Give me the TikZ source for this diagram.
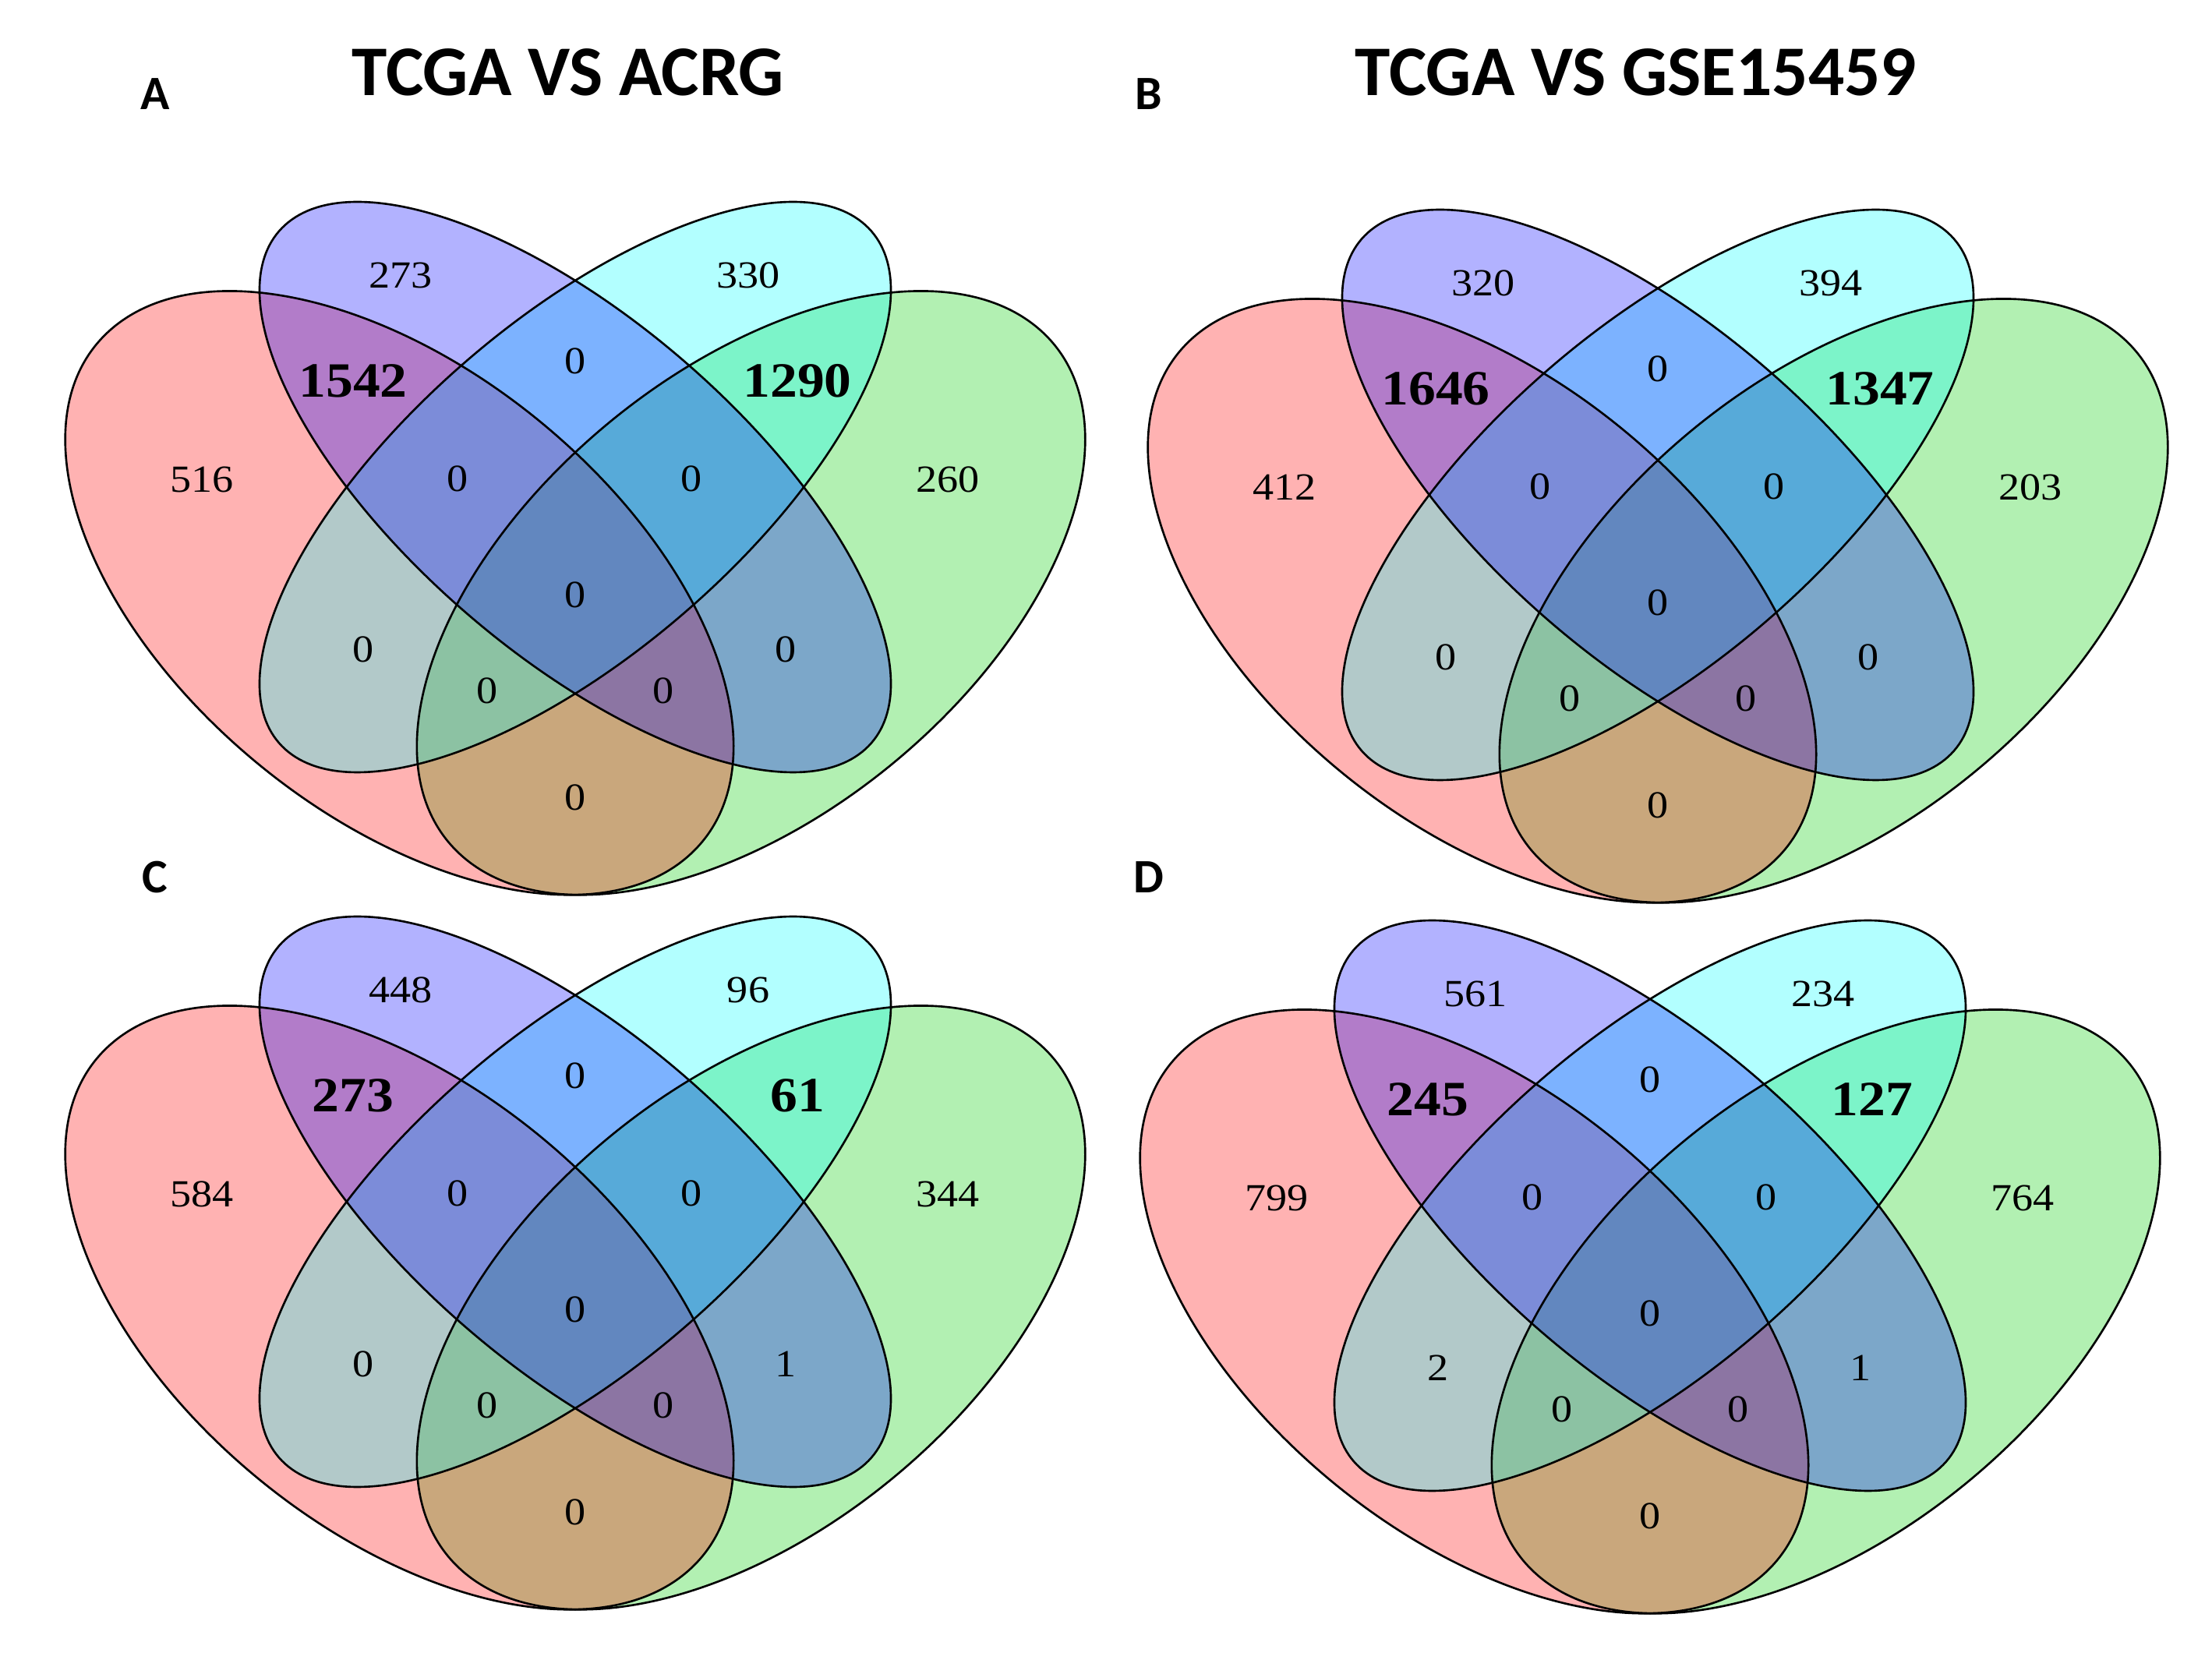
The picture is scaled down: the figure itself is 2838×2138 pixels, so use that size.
\documentclass[tikz,border=0pt]{standalone}
\usepackage{fontspec}
\usepackage{graphicx}
\setmainfont{Liberation Serif}
\newfontfamily\calib{Carlito}
\definecolor{vred}{RGB}{255,0,0}
\definecolor{vblue}{RGB}{0,0,255}
\definecolor{vcyan}{RGB}{0,255,255}
\definecolor{vgreen}{RGB}{0,205,0}
\tikzset{
  vennfill/.style={fill=#1, fill opacity=0.3},
  venndraw/.style={draw=black, line width=0.75pt},
  num/.style={inner sep=0pt, font=\fontsize{14}{16}\selectfont},
  bignum/.style={inner sep=0pt, font=\fontsize{18}{20}\selectfont\bfseries},
  paneltitle/.style={inner sep=0pt, font=\calib\bfseries\fontsize{26}{29}\selectfont},
  panelletter/.style={inner sep=0pt, font=\calib\bfseries\fontsize{17.5}{20}\selectfont},
}
\newcommand\hs[1]{\scalebox{1.1}[1]{#1}}
\newcommand\VennShapes{%
  \begin{scope}[xscale=1504, yscale=1359]
    \fill[vennfill=vgreen, shift={(0.15,-0.1)}, rotate=45] (0,0) ellipse [x radius=0.35, y radius=0.2];
    \fill[vennfill=vred, shift={(-0.15,-0.1)}, rotate=135] (0,0) ellipse [x radius=0.35, y radius=0.2];
    \fill[vennfill=vcyan, rotate=45] (0,0) ellipse [x radius=0.35, y radius=0.15];
    \fill[vennfill=vblue, rotate=135] (0,0) ellipse [x radius=0.35, y radius=0.15];
    \draw[venndraw, shift={(0.15,-0.1)}, rotate=45] (0,0) ellipse [x radius=0.35, y radius=0.2];
    \draw[venndraw, shift={(-0.15,-0.1)}, rotate=135] (0,0) ellipse [x radius=0.35, y radius=0.2];
    \draw[venndraw, rotate=45] (0,0) ellipse [x radius=0.35, y radius=0.15];
    \draw[venndraw, rotate=135] (0,0) ellipse [x radius=0.35, y radius=0.15];
  \end{scope}}
\newcommand\VennNums[9]{%
  \node[num] (#1-b) at (-224,272) {\hs{#2}};
  \node[num] (#1-c) at (222,272) {\hs{#3}};
  \node[num] (#1-r) at (-479,10) {\hs{#4}};
  \node[num] (#1-g) at (478,10) {\hs{#5}};
  \node[bignum] (#1-rb) at (-285,136) {\hs{#6}};
  \node[bignum] (#1-cg) at (285,136) {\hs{#7}};
  \node[num] (#1-rc) at (-272,-208) {\hs{#8}};
  \node[num] (#1-bg) at (270,-208) {\hs{#9}};
  \node[num] (#1-bc) at (0,162) {\hs{0}};
  \node[num] (#1-rbc) at (-151,11) {\hs{0}};
  \node[num] (#1-bcg) at (149,11) {\hs{0}};
  \node[num] (#1-all) at (0,-138) {\hs{0}};
  \node[num] (#1-rcg) at (-113,-261) {\hs{0}};
  \node[num] (#1-rbg) at (113,-261) {\hs{0}};
  \node[num] (#1-rg) at (0,-398) {\hs{0}};
}
\begin{document}
\begin{tikzpicture}[x=0.01cm, y=0.01cm]
\useasboundingbox (0,0) rectangle (2838,2138);
\node[paneltitle] (titleA) at (729,2045) {TCGA VS ACRG};
\node[paneltitle] (titleB) at (2099,2045) {TCGA VS GSE15459};
\node[panelletter] (letA) at (199,2017) {A};
\node[panelletter] (letB) at (1474,2017) {B};
\node[panelletter] (letC) at (199,1012) {C};
\node[panelletter] (letD) at (1474,1012) {D};
\begin{scope}[shift={(738,1513)}]
  \VennShapes
  \VennNums{A}{273}{330}{516}{260}{1542}{1290}{0}{0}
\end{scope}
\begin{scope}[shift={(2127,1503)}]
  \VennShapes
  \VennNums{B}{320}{394}{412}{203}{1646}{1347}{0}{0}
\end{scope}
\begin{scope}[shift={(738,596)}]
  \VennShapes
  \VennNums{C}{448}{96}{584}{344}{273}{61}{0}{1}
\end{scope}
\begin{scope}[shift={(2117,591)}]
  \VennShapes
  \VennNums{D}{561}{234}{799}{764}{245}{127}{2}{1}
\end{scope}
\end{tikzpicture}
\end{document}
